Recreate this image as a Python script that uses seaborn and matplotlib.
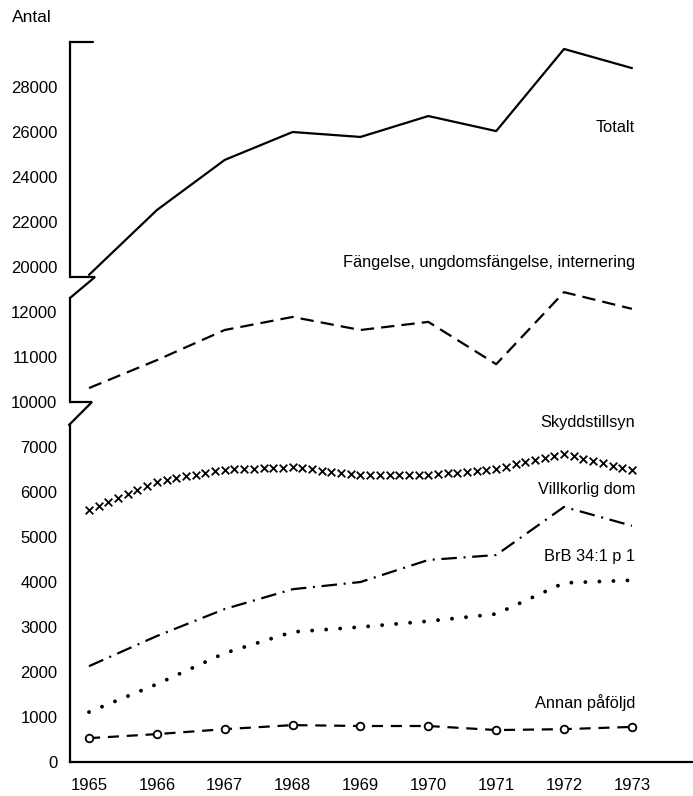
import numpy as np
import matplotlib
matplotlib.use("Agg")
import matplotlib.pyplot as plt
import seaborn as sns
from matplotlib.lines import Line2D
from matplotlib.path import Path

# ---------------- data ----------------
years = [1965, 1966, 1967, 1968, 1969, 1970, 1971, 1972, 1973]
totalt = [19650, 22530, 24760, 26000, 25780, 26710, 26040, 29690, 28840]
fangelse = [10310, 10930, 11600, 11890, 11600, 11780, 10840, 12440, 12070]
skyddstillsyn = [5600, 6230, 6500, 6550, 6380, 6370, 6520, 6850, 6480]
villkorlig = [2130, 2800, 3400, 3840, 4000, 4490, 4600, 5670, 5250]
brb = [1110, 1730, 2420, 2890, 3000, 3130, 3290, 3980, 4040]
annan = [530, 620, 730, 820, 800, 800, 710, 730, 780]

top_ticks = [20000, 22000, 24000, 26000, 28000]
mid_ticks = [10000, 11000, 12000]
bot_ticks = [0, 1000, 2000, 3000, 4000, 5000, 6000, 7000]

labels = {
    "Totalt": (127, "Totalt"),
    "Fangelse": (263, "Fängelse, ungdomsfängelse, internering"),
    "Skydd": (422, "Skyddstillsyn"),
    "Villk": (490, "Villkorlig dom"),
    "BrB": (557, "BrB 34:1 p 1"),
    "Annan": (703, "Annan påföljd"),
}

# ---------------- style ----------------
sns.set_style("white")
plt.rcParams["font.family"] = ["Liberation Sans", "DejaVu Sans"]
plt.rcParams["text.color"] = "black"

W, H = 693, 796
fig = plt.figure(figsize=(W / 100, H / 100), dpi=100)


def fx(x):
    return x / W


def fy(y):
    return 1 - y / H


XL = (1964.72, 1973.9)
left = fx(70)
width = (693 - 70) / W

ax_top = fig.add_axes([left, fy(277), width, (277 - 42) / H])
ax_mid = fig.add_axes([left, fy(402), width, (402 - 298) / H])
ax_bot = fig.add_axes([left, fy(762), width, (762 - 425) / H])

LW = 1.6
for ax in (ax_top, ax_mid, ax_bot):
    ax.set_facecolor("none")
    ax.set_xlim(*XL)
    for s in ("top", "right"):
        ax.spines[s].set_visible(False)
    ax.spines["left"].set_linewidth(LW)
    ax.spines["left"].set_color("black")
    ax.tick_params(axis="y", direction="in", length=9.5, width=LW,
                   labelsize=12, pad=9, colors="black")

for ax in (ax_top, ax_mid):
    ax.spines["bottom"].set_visible(False)
    ax.set_xticks([])

ax_top.set_ylim(19556, 30000)
ax_mid.set_ylim(10000, 12311)
ax_bot.set_ylim(0, 7490)

ax_top.set_yticks(top_ticks)
ax_top.set_yticklabels([str(t) for t in top_ticks])
ax_mid.set_yticks(mid_ticks)
ax_mid.set_yticklabels([str(t) for t in mid_ticks])
ax_bot.set_yticks(bot_ticks)
ax_bot.set_yticklabels([str(t) for t in bot_ticks])
ax_bot.yaxis.get_major_ticks()[0].tick1line.set_visible(False)

ax_bot.spines["bottom"].set_linewidth(LW)
ax_bot.spines["bottom"].set_color("black")
ax_bot.set_xticks(years)
ax_bot.set_xticklabels([str(y) for y in years])
ax_bot.tick_params(axis="x", direction="in", length=7.5, width=1.2,
                   labelsize=12, pad=11.5, colors="black")

# ---------------- series ----------------
sns.lineplot(x=years, y=totalt, ax=ax_top, color="black", lw=LW,
             errorbar=None, sort=False, clip_on=False)
sns.lineplot(x=years, y=fangelse, ax=ax_mid, color="black", lw=LW,
             linestyle=(0, (6, 3.2)), errorbar=None, sort=False,
             clip_on=False)

# Skyddstillsyn: drawn as a row of x signs along its path
path = Path(np.column_stack([years, skyddstillsyn])).interpolated(7)
pts = path.vertices
sns.scatterplot(x=pts[:, 0], y=pts[:, 1], ax=ax_bot, marker="x", s=30,
                color="black", linewidth=1.3, clip_on=False)

sns.lineplot(x=years, y=villkorlig, ax=ax_bot, color="black", lw=LW,
             linestyle=(0, (7, 3, 0.9, 3)), errorbar=None, sort=False)
sns.lineplot(x=years, y=brb, ax=ax_bot, color="black", lw=2.8,
             linestyle=(0, (0.01, 3.6)), dash_capstyle="round",
             errorbar=None, sort=False)
sns.lineplot(x=years, y=annan, ax=ax_bot, color="black", lw=LW,
             linestyle=(0, (5, 3.5)), marker="o", markersize=5.5,
             markerfacecolor="white", markeredgecolor="black",
             markeredgewidth=1.3, errorbar=None, sort=False, clip_on=False)

# ---------------- axis breaks & caps ----------------
def seg(xs, ys):
    fig.add_artist(Line2D([fx(x) for x in xs], [fy(y) for y in ys],
                          transform=fig.transFigure, color="black", lw=LW,
                          solid_joinstyle="miter"))


seg([70, 93], [42, 42])
seg([70, 95, 70], [277, 277, 298])
seg([70, 92, 69], [402, 402, 425])

# ---------------- texts ----------------
fig.text(fx(12), fy(18), "Antal", ha="left", va="center", fontsize=12.5,
         color="black")
for key, (yy, txt) in labels.items():
    fig.text(fx(635), fy(yy), txt, ha="right", va="center", fontsize=11.8,
             color="black")

fig.savefig("out.png", dpi=100)
